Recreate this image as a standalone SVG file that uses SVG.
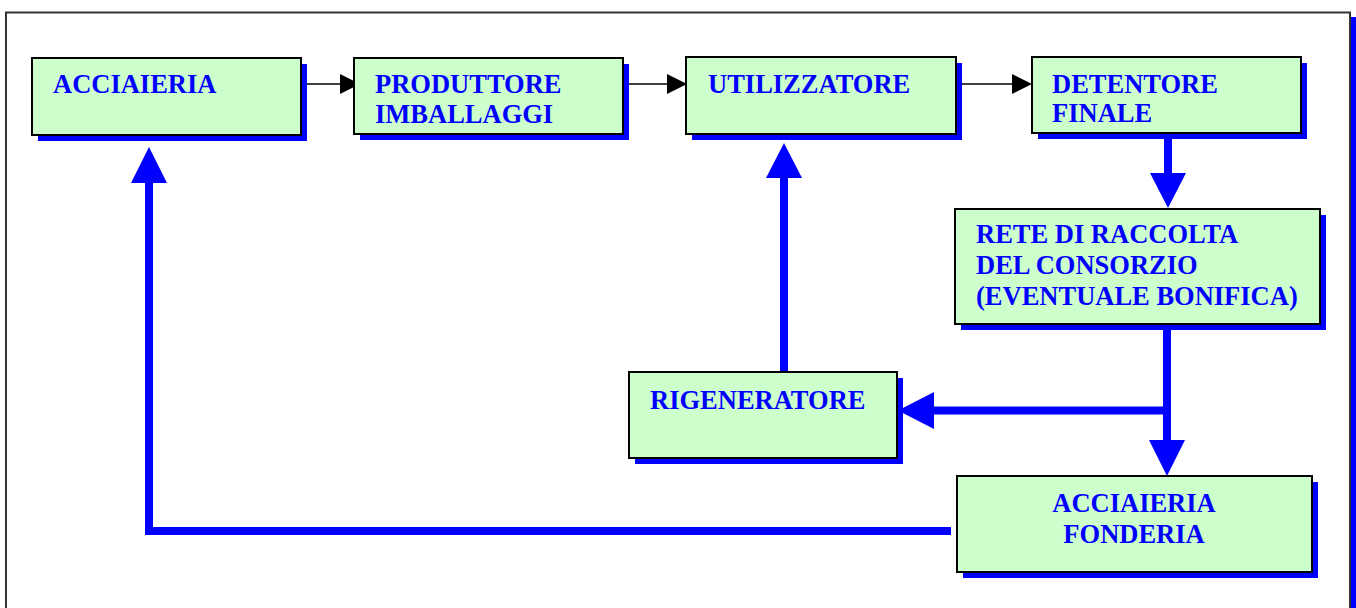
<svg xmlns="http://www.w3.org/2000/svg" width="1356" height="608" viewBox="0 0 1356 608">
  <style>
    .box { fill: #CCFFCC; stroke: #000; stroke-width: 2; }
    .shadow { fill: #0000FF; }
    .lbl { font-family: "Liberation Serif", "Times New Roman", serif; font-weight: bold; font-size: 26.5px; fill: #0000FF; }
    .thin { stroke: #000; stroke-width: 1.5; fill: none; }
    .thick { stroke: #0000FF; stroke-width: 8; fill: none; }
    .headK { fill: #000; }
    .headB { fill: #0000FF; }
  </style>

  <rect width="1356" height="608" fill="#fff"/>

  <!-- outer frame with its shadow -->
  <rect x="1351" y="17" width="5" height="600" fill="#0000FF"/>
  <rect x="6" y="12.5" width="1344" height="620" fill="none" stroke="#333" stroke-width="2"/>

  <!-- connectors -->
  <g id="connectors">
    <!-- supply chain (thin black) -->
    <line class="thin" x1="301" y1="84" x2="341" y2="84"/>
    <polygon class="headK" points="340,74 360,84 340,94"/>
    <line class="thin" x1="623" y1="84" x2="668" y2="84"/>
    <polygon class="headK" points="667,74 687,84 667,94"/>
    <line class="thin" x1="956" y1="84" x2="1013" y2="84"/>
    <polygon class="headK" points="1012,74 1032,84 1012,94"/>

    <!-- recovery flow (thick blue) -->
    <line class="thick" x1="1168" y1="133" x2="1168" y2="175"/>
    <polygon class="headB" points="1150,173 1186,173 1168,208"/>

    <line class="thick" x1="1167" y1="324" x2="1167" y2="442"/>
    <polygon class="headB" points="1149,440 1185,440 1167,476"/>

    <line class="thick" x1="1167" y1="410.5" x2="932" y2="410.5"/>
    <polygon class="headB" points="934,392 934,429 898,410.5"/>

    <line class="thick" x1="784" y1="372" x2="784" y2="176"/>
    <polygon class="headB" points="766,178 802,178 784,143"/>

    <polyline class="thick" points="951,531 149,531 149,181"/>
    <polygon class="headB" points="131,183 167,183 149,147"/>
  </g>

  <g id="acciaieria">
    <rect class="shadow" x="38" y="64" width="269" height="77"/>
    <rect class="box" x="32" y="58" width="269" height="77"/>
    <text class="lbl" x="53" y="93">ACCIAIERIA</text>
  </g>

  <g id="produttore">
    <rect class="shadow" x="360" y="64" width="269" height="76"/>
    <rect class="box" x="354" y="58" width="269" height="76"/>
    <text class="lbl" x="375" y="93">PRODUTTORE</text>
    <text class="lbl" x="375" y="123">IMBALLAGGI</text>
  </g>

  <g id="utilizzatore">
    <rect class="shadow" x="692" y="63" width="270" height="77"/>
    <rect class="box" x="686" y="57" width="270" height="77"/>
    <text class="lbl" x="708" y="93">UTILIZZATORE</text>
  </g>

  <g id="detentore">
    <rect class="shadow" x="1038" y="63" width="269" height="76"/>
    <rect class="box" x="1032" y="57" width="269" height="76"/>
    <text class="lbl" x="1052" y="93">DETENTORE</text>
    <text class="lbl" x="1052" y="122">FINALE</text>
  </g>

  <g id="rete">
    <rect class="shadow" x="961" y="215" width="365" height="115"/>
    <rect class="box" x="955" y="209" width="365" height="115"/>
    <text class="lbl" x="976" y="243">RETE DI RACCOLTA</text>
    <text class="lbl" x="976" y="274">DEL CONSORZIO</text>
    <text class="lbl" x="976" y="305">(EVENTUALE BONIFICA)</text>
  </g>

  <g id="rigeneratore">
    <rect class="shadow" x="635" y="378" width="268" height="86"/>
    <rect class="box" x="629" y="372" width="268" height="86"/>
    <text class="lbl" x="650" y="409">RIGENERATORE</text>
  </g>

  <g id="fonderia">
    <rect class="shadow" x="963" y="482" width="355" height="96"/>
    <rect class="box" x="957" y="476" width="355" height="96"/>
    <text class="lbl" x="1134" y="512" text-anchor="middle">ACCIAIERIA</text>
    <text class="lbl" x="1134" y="543" text-anchor="middle">FONDERIA</text>
  </g>
</svg>
